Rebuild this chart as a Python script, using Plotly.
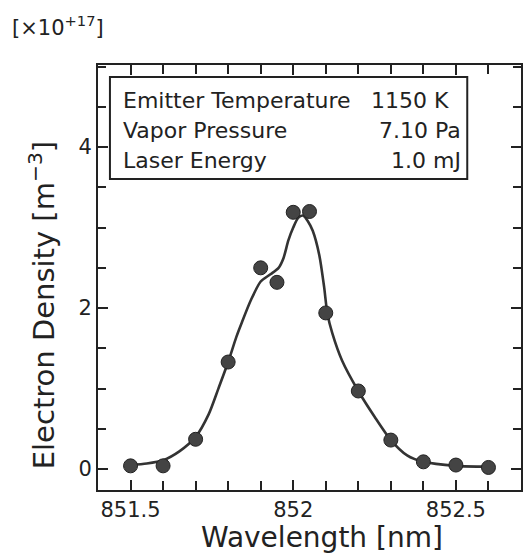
import plotly.graph_objects as go

# measured data points (wavelength in nm, electron density in 1e17 m^-3)
wavelength = [851.5, 851.6, 851.7, 851.8, 851.9, 851.95, 852.0, 852.05,
              852.1, 852.2, 852.3, 852.4, 852.5, 852.6]
density = [0.04, 0.04, 0.37, 1.33, 2.50, 2.32, 3.19, 3.20,
           1.94, 0.97, 0.36, 0.09, 0.05, 0.02]

# fitted curve
curve_x = [851.50, 851.55, 851.60, 851.65, 851.70, 851.74, 851.77, 851.80,
           851.825, 851.84, 851.87, 851.90, 851.93, 851.955, 851.97, 851.985,
           852.00, 852.015, 852.03, 852.045, 852.06, 852.08, 852.095, 852.105,
           852.12, 852.15, 852.20, 852.25, 852.30, 852.35, 852.40, 852.50, 852.60]
curve_y = [0.05, 0.07, 0.11, 0.22, 0.40, 0.68, 1.00, 1.33,
           1.64, 1.80, 2.10, 2.33, 2.42, 2.50, 2.62, 2.84,
           3.00, 3.12, 3.15, 3.08, 2.96, 2.66, 2.26, 1.93,
           1.69, 1.35, 0.97, 0.65, 0.36, 0.17, 0.09, 0.04, 0.03]

x_tickvals = [851.5, 852.0, 852.5]
x_ticktext = ["851.5", "852", "852.5"]
y_tickvals = [0, 2, 4]
y_ticktext = ["0", "2", "4"]

info_labels = ["Emitter Temperature", "Vapor Pressure", "Laser Energy"]
info_values = ["1150 K", "7.10 Pa", "1.0 mJ"]

FONT = "DejaVu Sans"
INK = "#222222"

W, H = 524, 556
L, R, T, B = 98, 1, 65, 66
pw, ph = W - L - R, H - T - B


def px(x):
    return (x - L) / pw


def py(y):
    return (H - B - y) / ph


fig = go.Figure()
fig.add_trace(go.Scatter(x=curve_x, y=curve_y, mode="lines",
                         line=dict(color="#333333", width=2.6, shape="spline", smoothing=0.7),
                         hoverinfo="skip", showlegend=False))
fig.add_trace(go.Scatter(x=wavelength, y=density, mode="markers",
                         marker=dict(size=14, color="#444444", line=dict(color="#222222", width=1)),
                         showlegend=False))

axis_common = dict(showline=True, linewidth=2, linecolor=INK, mirror="allticks",
                   ticks="inside", tickcolor=INK, tickwidth=2, showgrid=False,
                   zeroline=False, tickfont=dict(family=FONT, size=21, color=INK))

fig.update_xaxes(range=[851.4, 852.7], tickmode="array", tickvals=x_tickvals,
                 ticktext=x_ticktext, ticklen=10,
                 minor=dict(dtick=0.1, tick0=851.5, ticks="inside", ticklen=9,
                            tickwidth=2, tickcolor=INK, showgrid=False),
                 **axis_common)
fig.update_yaxes(range=[-0.26, 5.02], tickmode="array", tickvals=y_tickvals,
                 ticktext=y_ticktext, ticklen=10,
                 minor=dict(dtick=0.5, tick0=0, ticks="inside", ticklen=8,
                            tickwidth=2, tickcolor=INK, showgrid=False),
                 **axis_common)

# info box
fig.add_shape(type="rect", xref="paper", yref="paper",
              x0=px(110), x1=px(469), y0=py(179), y1=py(77),
              line=dict(color=INK, width=2), fillcolor="white", layer="above")

baselines_mid = [100, 130, 160]
value_right = [453, 465, 465]
for lab, val, ym, xr in zip(info_labels, info_values, baselines_mid, value_right):
    fig.add_annotation(text=lab, xref="paper", yref="paper", x=px(121), y=py(ym),
                       xanchor="left", yanchor="middle", showarrow=False,
                       font=dict(family=FONT, size=22, color=INK))
    fig.add_annotation(text=val, xref="paper", yref="paper", x=px(xr), y=py(ym),
                       xanchor="right", yanchor="middle", showarrow=False,
                       font=dict(family=FONT, size=22, color=INK))

# axis titles
fig.add_annotation(text="Wavelength [nm]", xref="paper", yref="paper",
                   x=px(323), y=py(537), xanchor="center", yanchor="middle",
                   showarrow=False, font=dict(family=FONT, size=28, color=INK))
fig.add_annotation(text="Electron Density [m<sup>−3</sup>]", xref="paper", yref="paper",
                   x=px(42), y=py(305), xanchor="center", yanchor="middle",
                   textangle=-90, showarrow=False,
                   font=dict(family=FONT, size=29, color=INK))
fig.add_annotation(text="[×10<sup>+17</sup>]", xref="paper", yref="paper",
                   x=px(10), y=py(26), xanchor="left", yanchor="middle",
                   showarrow=False, font=dict(family=FONT, size=21, color=INK))

fig.update_layout(width=W, height=H, margin=dict(l=L, r=R, t=T, b=B),
                  paper_bgcolor="white", plot_bgcolor="white")

fig.write_html("out.html")
